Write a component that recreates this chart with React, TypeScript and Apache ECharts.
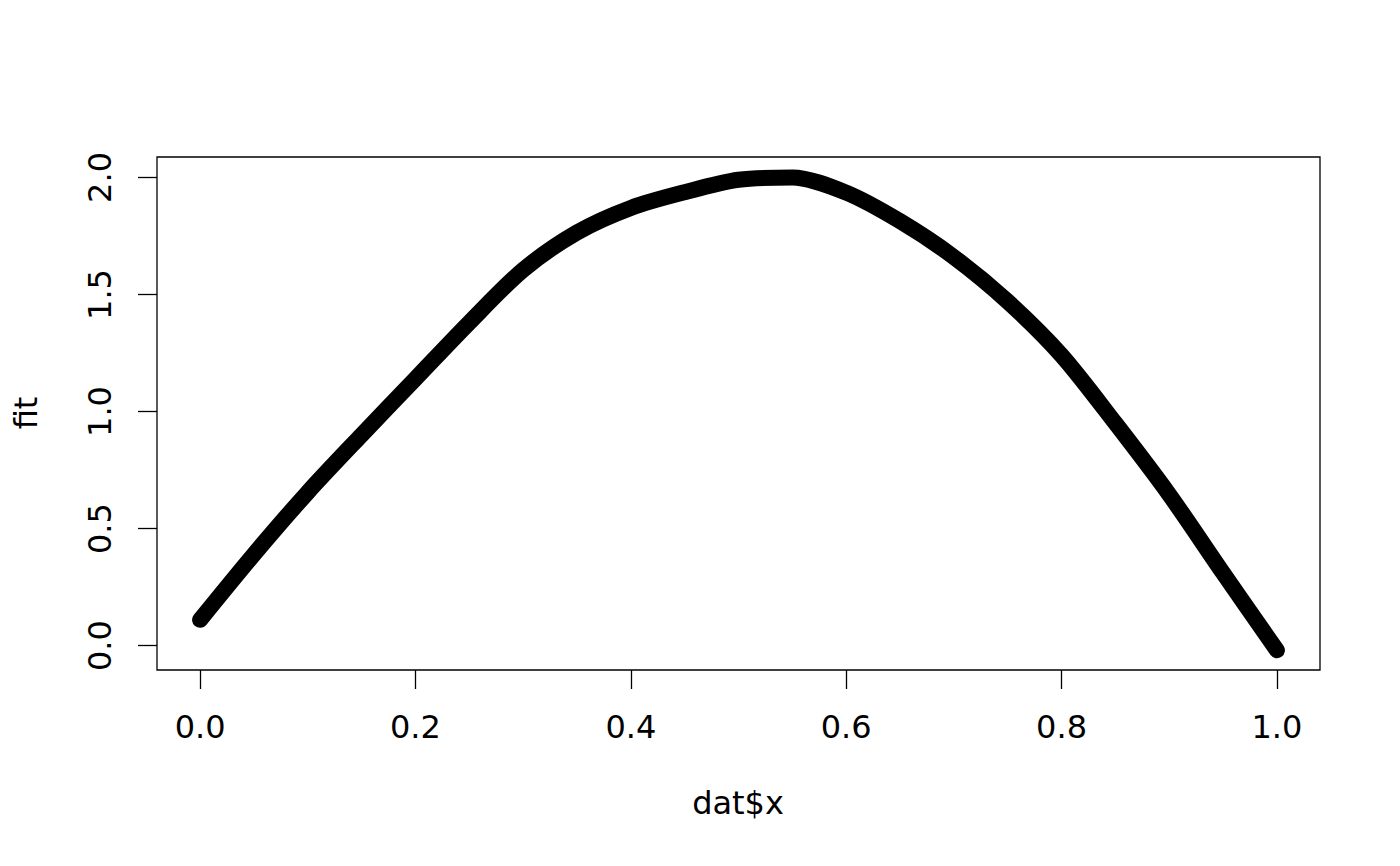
import React, { useEffect, useRef } from "react";
import * as echarts from "echarts";

// values (dat$x vs fit)
const xValues = [0.0, 0.05, 0.1, 0.15, 0.2, 0.25, 0.3, 0.35, 0.4, 0.45, 0.5, 0.55, 0.6, 0.65, 0.7, 0.75, 0.8, 0.85, 0.9, 0.95, 1.0];
const fitValues = [0.11, 0.39, 0.655, 0.9, 1.14, 1.38, 1.605, 1.765, 1.87, 1.937, 1.99, 2.0, 1.935, 1.813, 1.66, 1.47, 1.24, 0.95, 0.645, 0.31, -0.02];
const xTicks = [0, 0.2, 0.4, 0.6, 0.8, 1.0];
const yTicks = [0, 0.5, 1.0, 1.5, 2.0];
const xTitle = "dat$x";
const yTitle = "fit";

const FONT = "DejaVu Sans";
const FS = 32;

export default function App() {
  const ref = useRef<HTMLDivElement>(null);
  useEffect(() => {
    if (!ref.current) return;
    const chart = echarts.init(ref.current, null, { renderer: "svg" });
    const data = xValues.map((x, i) => [x, fitValues[i]]);
    chart.setOption({
      animation: false,
      backgroundColor: "#ffffff",
      grid: {
        left: 157,
        top: 157,
        width: 1163,
        height: 513,
        show: true,
        borderColor: "#000",
        borderWidth: 1.3,
        backgroundColor: "transparent",
      },
      xAxis: {
        type: "value",
        min: -0.04,
        max: 1.04,
        axisLine: { show: false, onZero: false },
        splitLine: { show: false },
        axisTick: {
          show: true,
          inside: false,
          length: 19,
          customValues: xTicks,
          lineStyle: { color: "#000", width: 1.3 },
        },
        axisLabel: {
          customValues: xTicks,
          formatter: (v: number) => v.toFixed(1),
          color: "#000",
          fontFamily: FONT,
          fontSize: FS,
          margin: 41,
        },
      },
      yAxis: {
        type: "value",
        min: -0.1043,
        max: 2.0874,
        axisLine: { show: false, onZero: false },
        splitLine: { show: false },
        axisTick: {
          show: true,
          inside: false,
          length: 19,
          customValues: yTicks,
          lineStyle: { color: "#000", width: 1.3 },
        },
        axisLabel: {
          customValues: yTicks,
          formatter: (v: number) => v.toFixed(1),
          color: "#000",
          fontFamily: FONT,
          fontSize: FS,
          margin: 41,
          rotate: 90,
        },
      },
      graphic: [
        {
          type: "text",
          x: 738,
          y: 803,
          style: {
            text: xTitle,
            fill: "#000",
            font: `${FS}px "${FONT}"`,
            align: "center",
            verticalAlign: "middle",
          },
        },
        {
          type: "text",
          x: 26,
          y: 413,
          rotation: Math.PI / 2,
          style: {
            text: yTitle,
            fill: "#000",
            font: `${FS}px "${FONT}"`,
            align: "center",
            verticalAlign: "middle",
          },
        },
      ],
      series: [
        {
          type: "line",
          data,
          smooth: 0.3,
          showSymbol: false,
          lineStyle: { color: "#000", width: 16, cap: "round", join: "round" },
        },
      ],
    });
    return () => chart.dispose();
  }, []);
  return (
    <div
      ref={ref}
      style={{ position: "fixed", left: 0, top: 0, width: 1400, height: 866, background: "#fff" }}
    />
  );
}
